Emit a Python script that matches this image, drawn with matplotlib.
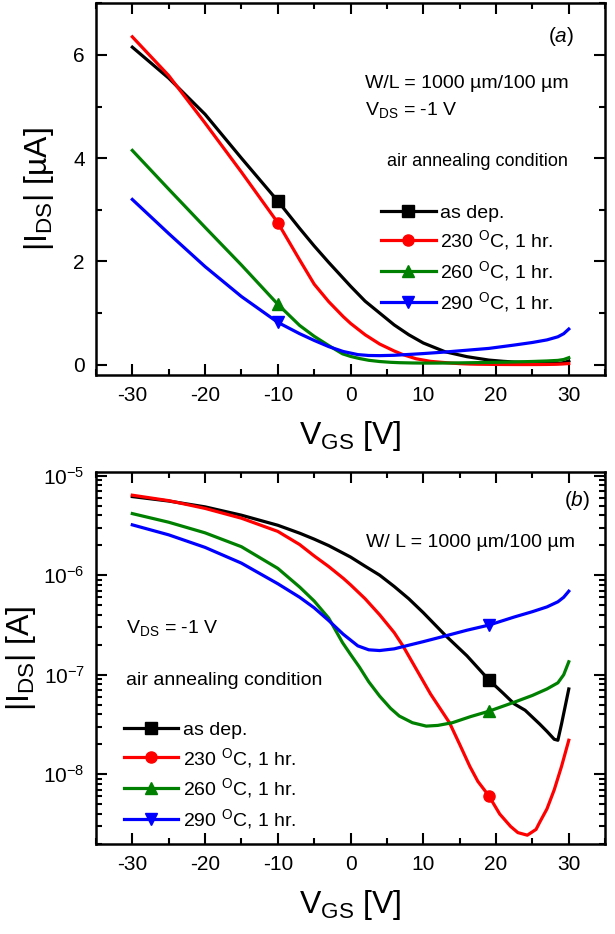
import matplotlib
matplotlib.use("Agg")
import matplotlib.pyplot as plt
from matplotlib.ticker import MultipleLocator, LogLocator, NullFormatter

plt.rcParams['font.family'] = ['Liberation Sans', 'DejaVu Sans']
plt.rcParams['mathtext.fontset'] = 'custom'
plt.rcParams['mathtext.rm'] = 'Liberation Sans'
plt.rcParams['mathtext.it'] = 'Liberation Sans:italic'
plt.rcParams['axes.unicode_minus'] = False

# |I_DS| in A vs V_GS in V
vAsDep = [-30, -25, -20, -15, -10, -7, -5, -3, 0, 2, 4, 6, 8, 10, 13, 16, 19, 21, 22.5, 24, 26, 27, 28, 28.5, 29, 29.5, 30]
iAsDep = [6.15e-6, 5.55e-6, 4.85e-6, 4.0e-6, 3.17e-6, 2.64e-6, 2.3e-6, 1.98e-6, 1.52e-6, 1.23e-6, 1.0e-6, 7.7e-7, 5.8e-7,
          4.2e-7, 2.5e-7, 1.55e-7, 8.9e-8, 6.5e-8, 5.1e-8, 4.4e-8, 3.2e-8, 2.7e-8, 2.25e-8, 2.2e-8, 3.2e-8, 4.8e-8, 7.2e-8]

v230 = [-30, -25, -20, -15, -10, -7, -5, -3, -1, 0, 2, 4, 6, 7.2, 9, 11, 13.6, 15, 16.4, 17.5, 19, 20.5, 22, 23, 24.3,
        25.5, 26, 27, 28, 29, 30]
i230 = [6.35e-6, 5.6e-6, 4.68e-6, 3.73e-6, 2.75e-6, 2.03e-6, 1.56e-6, 1.22e-6, 9.3e-7, 8.0e-7, 5.8e-7, 4.0e-7, 2.65e-7,
        1.95e-7, 1.15e-7, 6.4e-8, 3.3e-8, 2.0e-8, 1.2e-8, 8.5e-9, 6.1e-9, 4.0e-9, 3.0e-9, 2.6e-9, 2.45e-9,
        2.8e-9, 3.3e-9, 4.5e-9, 7e-9, 1.2e-8, 2.2e-8]

v260 = [-30, -25, -20, -15, -10, -7, -5, -3, -1.1, 0, 1.2, 2.5, 4, 5.5, 6.7, 8.5, 10.4, 12, 14, 16.5, 19, 22.5, 25,
        27, 28.5, 29.3, 30]
i260 = [4.15e-6, 3.4e-6, 2.66e-6, 1.93e-6, 1.17e-6, 7.6e-7, 5.5e-7, 3.7e-7, 2.1e-7, 1.6e-7, 1.2e-7, 8.5e-8, 6.1e-8,
        4.6e-8, 3.85e-8, 3.3e-8, 3.05e-8, 3.1e-8, 3.3e-8, 3.8e-8, 4.3e-8, 5.3e-8, 6.2e-8, 7.2e-8, 8.3e-8, 1.0e-7, 1.35e-7]

v290 = [-30, -25, -20, -15, -10, -7, -5, -3, -1, 1, 2.5, 4, 6, 8, 10, 13, 16, 19, 22.5, 25, 27, 28.5, 29.3, 30]
i290 = [3.2e-6, 2.54e-6, 1.9e-6, 1.32e-6, 8.2e-7, 6.0e-7, 4.7e-7, 3.5e-7, 2.55e-7, 1.95e-7, 1.78e-7, 1.75e-7, 1.82e-7,
        1.98e-7, 2.15e-7, 2.45e-7, 2.8e-7, 3.15e-7, 3.8e-7, 4.3e-7, 4.8e-7, 5.4e-7, 6.0e-7, 6.9e-7]

labels = ['as dep.', '230 $^{\\mathrm{O}}$C, 1 hr.', '260 $^{\\mathrm{O}}$C, 1 hr.', '290 $^{\\mathrm{O}}$C, 1 hr.']
colors = ['black', '#ff0000', '#008000', '#0000ff']
markers = ['s', 'o', '^', 'v']
series = [(vAsDep, iAsDep), (v230, i230), (v260, i260), (v290, i290)]

fig = plt.figure(figsize=(6.15, 9.34), dpi=100)
ax1 = fig.add_axes([0.156, 0.5985, 0.828, 0.398])
ax2 = fig.add_axes([0.156, 0.0964, 0.828, 0.398])

for k in range(4):
    v, i = series[k]
    ax1.plot(v, [x * 1e6 for x in i], color=colors[k], lw=2.3, marker=markers[k], ms=8,
             markevery=[v.index(-10)], label=labels[k])
    ax2.plot(v, i, color=colors[k], lw=2.3, marker=markers[k], ms=8,
             markevery=[v.index(19)], label=labels[k])

for ax in (ax1, ax2):
    ax.set_xlim(-35, 35)
    ax.xaxis.set_major_locator(MultipleLocator(10))
    ax.xaxis.set_minor_locator(MultipleLocator(5))
    ax.tick_params(which='both', direction='in', top=True, right=True, labelsize=15, width=1.5)
    ax.tick_params(which='major', length=8, pad=8)
    ax.tick_params(which='minor', length=4.5)
    for s in ax.spines.values():
        s.set_linewidth(1.8)
    ax.set_xlabel('V$_{\\mathrm{GS}}$ [V]', fontsize=23, labelpad=10)

ax1.set_ylim(-0.2, 7)
ax1.yaxis.set_major_locator(MultipleLocator(2))
ax1.yaxis.set_minor_locator(MultipleLocator(1))
ax1.set_ylabel('|I$_{\\mathrm{DS}}$| [µA]', fontsize=23, labelpad=12)

ax2.set_yscale('log')
ax2.set_ylim(2e-9, 1.08e-5)
ax2.yaxis.set_major_locator(LogLocator(base=10, numticks=10))
ax2.yaxis.set_minor_locator(LogLocator(base=10, subs=range(2, 10), numticks=10))
ax2.yaxis.set_minor_formatter(NullFormatter())
ax2.set_ylabel('|I$_{\\mathrm{DS}}$| [A]', fontsize=23, labelpad=4)

ax1.text(0.94, 0.91, '($\\mathit{a}$)', transform=ax1.transAxes, ha='right', va='center', fontsize=15)
ax1.text(0.528, 0.785, 'W/L = 1000 µm/100 µm', transform=ax1.transAxes, ha='left', va='center', fontsize=14)
ax1.text(0.528, 0.712, 'V$_{\\mathrm{DS}}$ = -1 V', transform=ax1.transAxes, ha='left', va='center', fontsize=14)
ax1.text(0.572, 0.573, 'air annealing condition', transform=ax1.transAxes, ha='left', va='center', fontsize=13)
ax1.legend(loc='upper left', bbox_to_anchor=(0.56, 0.46), frameon=False, fontsize=14, handlelength=2.8,
           handletextpad=0.25, labelspacing=0.35, borderpad=0, borderaxespad=0)

ax2.text(0.97, 0.925, '($\\mathit{b}$)', transform=ax2.transAxes, ha='right', va='center', fontsize=15)
ax2.text(0.53, 0.812, 'W/ L = 1000 µm/100 µm', transform=ax2.transAxes, ha='left', va='center', fontsize=14)
ax2.text(0.06, 0.58, 'V$_{\\mathrm{DS}}$ = -1 V', transform=ax2.transAxes, ha='left', va='center', fontsize=14)
ax2.text(0.06, 0.44, 'air annealing condition', transform=ax2.transAxes, ha='left', va='center', fontsize=14)
ax2.legend(loc='upper left', bbox_to_anchor=(0.055, 0.33), frameon=False, fontsize=14, handlelength=2.8,
           handletextpad=0.25, labelspacing=0.35, borderpad=0, borderaxespad=0)

fig.savefig('out.png', dpi=100)
